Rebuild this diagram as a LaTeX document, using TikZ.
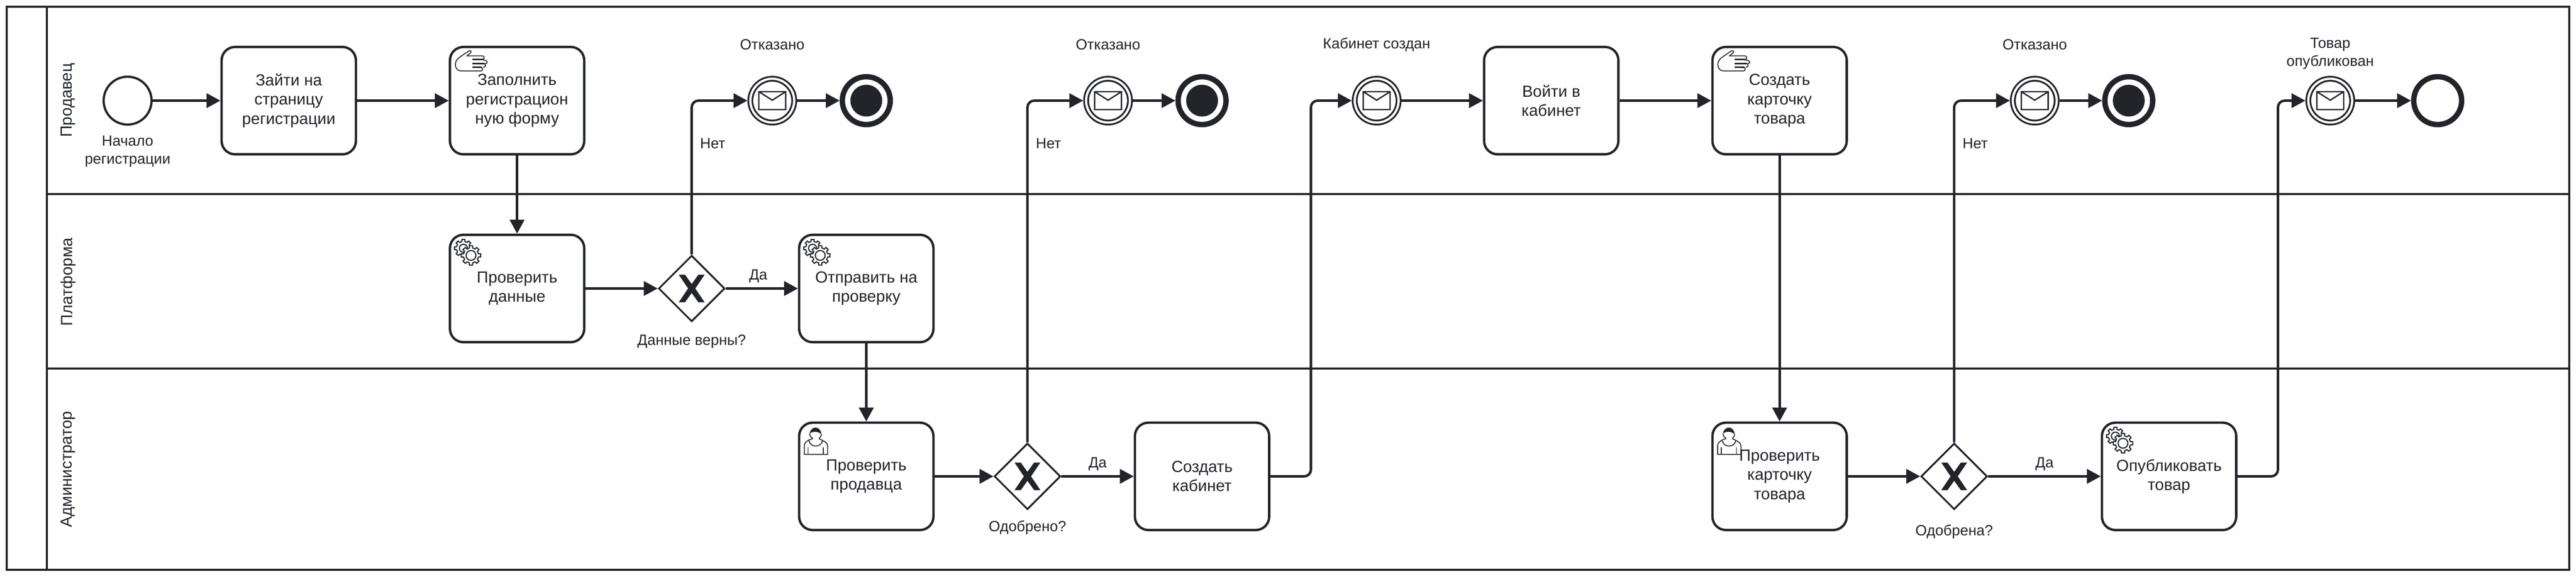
\documentclass[tikz,border=0pt]{standalone}
\usepackage{fontspec}
\setmainfont{Liberation Sans}
\usetikzlibrary{arrows.meta,shapes.geometric}
\definecolor{ink}{HTML}{22242A}
\tikzset{
    block/.style = {draw=ink, rectangle, line width=.053cm, rounded corners=.3cm,
        minimum width=3cm, minimum height=2.4cm, inner sep=0pt, align=center,
        text=ink, font=\fontsize{10.24}{12.23}\selectfont,
        execute at begin node={\rule{0pt}{.36cm}}},
    gateway/.style = {draw=ink, diamond, line width=.04cm, aspect=1, inner sep=0pt,
        minimum width=1.48cm, minimum height=1.48cm},
    startevent/.style = {draw=ink, circle, line width=.05cm, inner sep=0pt, minimum size=1.07cm},
    msgevent/.style = {draw=ink, circle, line width=.04cm, double, double distance=.05cm,
        inner sep=0pt, minimum size=.98cm, outer sep=.065cm},
    endevent/.style = {draw=ink, circle, line width=.12cm, inner sep=0pt, minimum size=1.07cm},
    arrow/.style = {draw=ink, ->, line width=.055cm, rounded corners=.15cm},
    pool/.style = {draw=ink, line width=.05cm},
    lane/.style = {rotate=90, text=ink, font=\fontsize{10.24}{12.23}\selectfont},
    tag/.style = {text=ink, align=center, inner ysep=.1cm, inner xsep=.16cm, font=\fontsize{9.39}{11.38}\selectfont}
}
\newcommand{\crossmark}[1]{
    \fill[ink, shift={(#1)}, x=.01cm, y=-.01cm] (-29,-31) -- (-15,-31) -- (0,-10) -- (15,-31) -- (29,-31)
        -- (8,0) -- (29,31) -- (15,31) -- (0,10) -- (-15,31) -- (-29,31) -- (-8,0) -- cycle;
}
\newcommand{\envelope}[1]{
    \draw[ink, line width=.03cm, shift={(#1)}, x=.01cm, y=-.01cm] (-30,-20) rectangle (30,20)
        (-30,-20) -- (0,-1) -- (30,-20);
}
\newcommand{\handmark}[1]{
    \begin{scope}[shift={(#1)}, x=.00333cm, y=-.00333cm, xshift=-1.75cm, yshift=1.45cm, ink, line width=.02cm]
        \draw (205,100) -- (135,148) .. controls (112,168) and (112,185) .. (112,195)
            .. controls (112,222) and (130,236) .. (150,236) -- (285,236)
            .. controls (298,236) and (298,214) .. (285,214) -- (228,212);
        \draw (205,100) .. controls (215,100) and (222,108) .. (214,114) -- (190,135) -- (295,135)
            .. controls (308,135) and (308,160) .. (295,160) -- (228,160);
        \draw (298,163) .. controls (330,163) and (335,187) .. (310,187) -- (228,187);
        \draw (308,189) .. controls (318,194) and (318,210) .. (298,212);
        \draw[line width=.035cm] (225,160) -- (300,160) (225,187) -- (305,187) (225,212) -- (290,212);
    \end{scope}
}
\newcommand{\gearshape}[4]{
    \draw[ink, fill=white, line width=.025cm, shift={(#1,#2)}] (-13:#4)
        \foreach \a in {0,45,...,315} {-- (\a-13:#4) -- (\a-9:#3) -- (\a+9:#3) -- (\a+13:#4)} -- cycle;
}
\newcommand{\gearmark}[1]{
    \begin{scope}[shift={(#1)}, x=.01cm, y=-.01cm]
        \gearshape{-120}{-90}{20}{15.5}
        \draw[ink, line width=.025cm] (-120,-90) circle (9);
        \gearshape{-103}{-74}{22}{17}
        \draw[ink, line width=.025cm] (-103,-74) circle (11);
    \end{scope}
}
\newcommand{\usermark}[1]{
    \begin{scope}[shift={(#1)}, x=.00333cm, y=-.00333cm, xshift=-1.75cm, yshift=1.35cm, ink, line width=.02cm]
        \fill (146,118) .. controls (150,90) and (170,78) .. (185,78) .. controls (205,78) and (222,95) .. (225,122)
            .. controls (210,112) and (195,104) .. (175,106) .. controls (165,107) and (155,112) .. (146,118) -- cycle;
        \draw (146,118) .. controls (146,135) and (155,142) .. (163,148) -- (165,153) -- (148,158)
            .. controls (125,170) and (110,180) .. (110,200) -- (110,258) -- (267,258) -- (267,200)
            .. controls (267,180) and (240,168) .. (210,153) -- (212,148) .. controls (220,140) and (225,132) .. (225,122);
        \draw (142,165) .. controls (148,215) and (225,215) .. (232,165);
        \draw (135,210) -- (135,258) (237,210) -- (237,258);
    \end{scope}
}

\begin{document}
\begin{tikzpicture}[auto, node distance=2cm, >={Triangle[length=.31cm,width=.32cm]}]
    \useasboundingbox (0,0) rectangle (57.54,-12.9);
    \draw [pool] (.15,-.15) rectangle (57.39,-12.74);
    \draw [pool] (1.05,-.15) -- (1.05,-12.74);
    \draw [pool] (1.05,-4.34) -- (57.39,-4.34);
    \draw [pool] (1.05,-8.24) -- (57.39,-8.24);
    \node [lane] (seller) at (1.52,-2.24) {Продавец};
    \node [lane] (platform) at (1.52,-6.30) {Платформа};
    \node [lane] (admin) at (1.52,-10.49) {Администратор};

    \node [startevent] (start) at (2.85,-2.25) {};
    \node [tag, below of=start, node distance=1.135cm] (startlbl) {Начало\\регистрации};
    \node [block, right of=start, node distance=3.6cm] (regpage) {Зайти на\\страницу\\регистрации};
    \node [block, right of=regpage, node distance=5.1cm] (form) {Заполнить\\регистрацион\\ную форму};
    \node [block, below of=form, node distance=4.2cm] (check) {Проверить\\данные};
    \node [gateway, right of=check, node distance=3.9cm] (gwdata) {};
    \node [tag, below of=gwdata, node distance=1.185cm] (gwdatalbl) {Данные верны?};
    \node [block, right of=gwdata, node distance=3.9cm] (send) {Отправить на\\проверку};
    \node [msgevent, right of=form, node distance=5.7cm] (msgA) {};
    \node [tag, above of=msgA, node distance=1.25cm] (msgAlbl) {Отказано};
    \node [endevent, right of=msgA, node distance=2.1cm] (endA) {};

    \node [block, below of=send, node distance=4.2cm] (review) {Проверить\\продавца};
    \node [gateway, right of=review, node distance=3.6cm] (gwseller) {};
    \node [tag, below of=gwseller, node distance=1.15cm] (gwsellerlbl) {Одобрено?};
    \node [block, right of=gwseller, node distance=3.9cm] (cabinet) {Создать\\кабинет};
    \node [msgevent, right of=endA, node distance=5.4cm] (msgB) {};
    \node [tag, above of=msgB, node distance=1.25cm] (msgBlbl) {Отказано};
    \node [endevent, right of=msgB, node distance=2.1cm] (endB) {};
    \node [msgevent, right of=endB, node distance=3.9cm] (msgC) {};
    \node [tag, above of=msgC, node distance=1.25cm] (msgClbl) {Кабинет создан};
    \node [block, right of=msgC, node distance=3.9cm] (enter) {Войти в\\кабинет};
    \node [block, right of=enter, node distance=5.1cm] (card) {Создать\\карточку\\товара};

    \node [block, below of=card, node distance=8.4cm] (cardcheck) {Проверить\\карточку\\товара};
    \node [gateway, right of=cardcheck, node distance=3.9cm] (gwcard) {};
    \node [tag, below of=gwcard, node distance=1.24cm] (gwcardlbl) {Одобрена?};
    \node [block, right of=gwcard, node distance=4.8cm] (publish) {Опубликовать\\товар};
    \node [msgevent, right of=card, node distance=5.7cm] (msgD) {};
    \node [tag, above of=msgD, node distance=1.25cm] (msgDlbl) {Отказано};
    \node [endevent, right of=msgD, node distance=2.1cm] (endD) {};
    \node [msgevent, right of=endD, node distance=4.5cm] (msgE) {};
    \node [tag, above of=msgE, node distance=1.05cm] (msgElbl) {Товар\\опубликован};
    \node [endevent, right of=msgE, node distance=2.4cm] (endE) {};

    \draw [arrow] (start) -- (regpage);
    \draw [arrow] (regpage) -- (form);
    \draw [arrow] (form) -- (check);
    \draw [arrow] (check) -- (gwdata);
    \draw [arrow] (gwdata) |- node [tag, swap, pos=.36] {Нет} (msgA);
    \draw [arrow] (msgA) -- (endA);
    \draw [arrow] (gwdata) -- node [tag, pos=.45] {Да} (send);
    \draw [arrow] (send) -- (review);
    \draw [arrow] (review) -- (gwseller);
    \draw [arrow] (gwseller) |- node [tag, swap, pos=.437] {Нет} (msgB);
    \draw [arrow] (msgB) -- (endB);
    \draw [arrow] (gwseller) -- node [tag, pos=.5] {Да} (cabinet);
    \draw [arrow] (cabinet.east) -- ++(.905,0) |- (msgC);
    \draw [arrow] (msgC) -- (enter);
    \draw [arrow] (enter) -- (card);
    \draw [arrow] (card) -- (cardcheck);
    \draw [arrow] (cardcheck) -- (gwcard);
    \draw [arrow] (gwcard) |- node [tag, swap, pos=.437] {Нет} (msgD);
    \draw [arrow] (msgD) -- (endD);
    \draw [arrow] (gwcard) -- node [tag, pos=.5] {Да} (publish);
    \draw [arrow] (publish.east) -- ++(.905,0) |- (msgE);
    \draw [arrow] (msgE) -- (endE);

    \foreach \gw in {gwdata,gwseller,gwcard} \crossmark{\gw};
    \foreach \ev in {msgA,msgB,msgC,msgD,msgE} \envelope{\ev};
    \foreach \ev in {endA,endB,endD} \fill [ink] (\ev) circle (.355cm);
    \foreach \tk in {form,card} \handmark{\tk};
    \foreach \tk in {check,send,publish} \gearmark{\tk};
    \foreach \tk in {review,cardcheck} \usermark{\tk};
\end{tikzpicture}
\end{document}
